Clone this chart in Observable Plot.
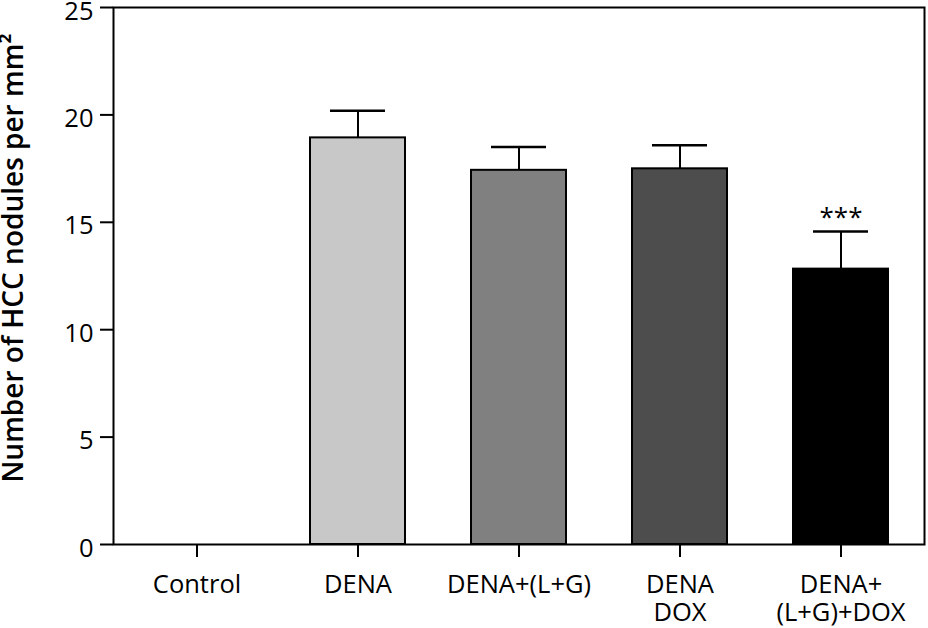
<!DOCTYPE html>
<html><head><meta charset="utf-8">
<script src="https://cdn.jsdelivr.net/npm/d3@7"></script>
<script src="https://cdn.jsdelivr.net/npm/@observablehq/plot@0.6"></script>
<style>body{margin:0;background:#fff}</style>
</head><body><div id="chart"></div>
<script>
const groups = ["Control","DENA","DENA+(L+G)","DENA\nDOX","DENA+\n(L+G)+DOX"];
const means = [0, 18.93, 17.42, 17.49, 12.82];
const upperErr = [0, 20.19, 18.50, 18.59, 14.57];
const sigMarks = ["","","","","***"];
const yTicks = [0,5,10,15,20,25];
const yLabel = "Number of HCC nodules per mm²";

const data = groups.map((g,i)=>({group:g, mean:means[i], upper:upperErr[i], mark:sigMarks[i]}));
const withBars = data.filter(d=>d.mean>0);

const plot = Plot.plot({
  width:928, height:628,
  marginLeft:113, marginRight:4, marginTop:7, marginBottom:84,
  style:{fontFamily:"'Open Sans', sans-serif", background:"#fff", color:"#000"},
  x:{domain:groups, paddingInner:0.41, paddingOuter:0.22, label:null},
  y:{domain:[0,25], label:null},
  color:{domain:groups, range:["#ffffff","#c8c8c8","#808080","#4d4d4d","#000000"]},
  marks:[
    Plot.ruleX(withBars,{x:"group", y1:"mean", y2:"upper", stroke:"#000", strokeWidth:2}),
    Plot.tickY(withBars,{x:"group", y:"upper", stroke:"#000", strokeWidth:2.5, insetLeft:20, insetRight:20}),
    Plot.barY(withBars,{x:"group", y:"mean", fill:"group", stroke:"#000", strokeWidth:2}),
    Plot.text(withBars,{x:"group", y:"upper", text:"mark", dy:-14, fontSize:26}),
    Plot.frame({stroke:"#000", strokeWidth:2}),
    Plot.axisY({ticks:yTicks, tickSize:13, tickFormat:()=>"", label:null, strokeWidth:2}),
    Plot.text(yTicks,{y:d=>d, text:d=>String(d), frameAnchor:"left", textAnchor:"end", dx:-20, dy:4, fontSize:25.5}),
    Plot.axisX({tickSize:13, tickFormat:()=>"", label:null, strokeWidth:2}),
    Plot.text(data,{x:"group", text:"group", frameAnchor:"bottom", lineAnchor:"top", dy:28, fontSize:25.5, lineHeight:1.12}),
    Plot.text([yLabel],{frameAnchor:"left", textAnchor:"middle", dx:-99, dy:-18, rotate:-90, fontSize:28, fontWeight:600})
  ]
});
document.getElementById("chart").appendChild(plot);
</script>
</body></html>
